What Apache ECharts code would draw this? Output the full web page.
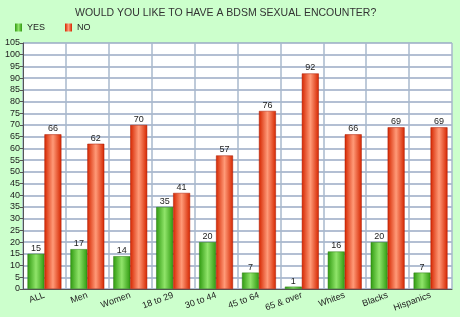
<!DOCTYPE html>
<html><head><meta charset="utf-8">
<script src="https://cdn.jsdelivr.net/npm/echarts@6/dist/echarts.min.js"></script>
<style>html,body{margin:0;padding:0;background:#ccffcc;}#c{width:460px;height:317px;}</style>
</head><body><div id="c"></div>
<script>
const categories = ['ALL','Men','Women','18 to 29','30 to 44','45 to 64','65 & over','Whites','Blacks','Hispanics'];
const yesValues = [15,17,14,35,20,7,1,16,20,7];
const noValues = [66,62,70,41,57,76,92,66,69,69];
const titleText = 'WOULD YOU LIKE TO HAVE A BDSM SEXUAL ENCOUNTER?';

function grad(edge, mid){
  return new echarts.graphic.LinearGradient(0,0,1,0,[
    {offset:0,color:edge},{offset:0.5,color:mid},{offset:1,color:edge}]);
}
const chart = echarts.init(document.getElementById('c'), null, {renderer:'canvas'});
const labelStyle = {show:true, position:'top', distance:1, color:'#222', fontSize:9, fontFamily:'Liberation Sans'};
chart.setOption({
  backgroundColor:'#ccffcc',
  animation:false,
  title:{text:titleText, left:70, top:3, textStyle:{fontSize:10.5, fontWeight:'normal', color:'#333', fontFamily:'Liberation Sans'}},
  legend:{left:10, top:18, itemWidth:7, itemHeight:8, itemGap:20, icon:'rect',
    itemStyle:{borderWidth:0},
    textStyle:{fontSize:9, color:'#222', fontFamily:'Liberation Sans'},
    data:['YES','NO']},
  grid:{left:23, right:8, top:43, bottom:28, show:true, backgroundColor:'#ffffff', borderWidth:0},
  xAxis:{type:'category', data:categories,
    axisLine:{lineStyle:{color:'#555'}}, axisTick:{show:false},
    splitLine:{show:true, interval:0, lineStyle:{color:'#a8b8cc', width:1.5}},
    axisLabel:{interval:0, rotate:20, fontSize:9, color:'#222', margin:6, fontFamily:'Liberation Sans'}},
  yAxis:{type:'value', min:0, max:105, interval:5,
    axisLine:{show:true, lineStyle:{color:'#555'}}, axisTick:{show:true, length:3, lineStyle:{color:'#555'}},
    splitLine:{lineStyle:{color:'#9aaac4', width:1.5}},
    axisLabel:{fontSize:9, color:'#222', margin:3, fontFamily:'Liberation Sans'}},
  series:[
    {name:'YES', type:'bar', data:yesValues, barGap:'0%', barCategoryGap:'21%',
     itemStyle:{color:grad('#2f9a10','#90e46a'), borderColor:'#2a7a10', borderWidth:0.5},
     label:labelStyle},
    {name:'NO', type:'bar', data:noValues,
     itemStyle:{color:grad('#d52600','#ff9a78'), borderColor:'#a81800', borderWidth:0.5},
     label:labelStyle}
  ]
});
</script></body></html>
